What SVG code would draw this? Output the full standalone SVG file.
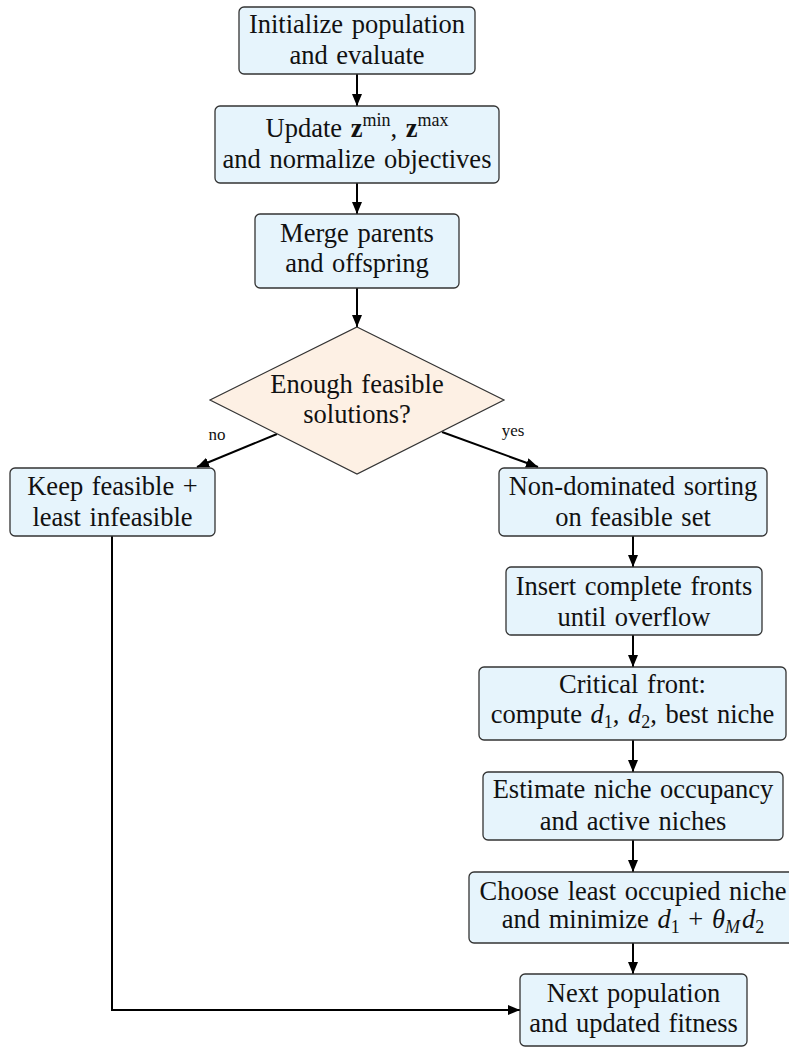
<svg xmlns="http://www.w3.org/2000/svg" width="789" height="1048" viewBox="0 0 789 1048">
<style>
.box{fill:#E6F4FC;stroke:#333;stroke-width:1.3}
.dia{fill:#FDF0E4;stroke:#333;stroke-width:1.2}
.t{font-family:"Liberation Serif","Times New Roman",serif;font-size:26.5px;fill:#111;text-anchor:middle;word-spacing:2px}
.lbl{font-family:"Liberation Serif","Times New Roman",serif;font-size:17px;fill:#111;text-anchor:middle}
.c{fill:none;stroke:#000;stroke-width:2}
.m{font-style:italic}
.b{font-weight:bold}
</style>
<defs>
<marker id="ah" markerUnits="userSpaceOnUse" markerWidth="13" markerHeight="11" refX="12" refY="5" orient="auto">
<path d="M0,0 L12,5 L0,10 z" fill="#000"/>
</marker>
</defs>
<rect width="789" height="1048" fill="#fff"/>
<g id="connectors">
<path class="c" d="M357,74 V106" marker-end="url(#ah)"/>
<path class="c" d="M357,183 V214" marker-end="url(#ah)"/>
<path class="c" d="M357,288 V327" marker-end="url(#ah)"/>
<path class="c" d="M277,434 L197,467" marker-end="url(#ah)"/>
<path class="c" d="M442,432 L538,467" marker-end="url(#ah)"/>
<path class="c" d="M633,536 V567" marker-end="url(#ah)"/>
<path class="c" d="M633,635 V667" marker-end="url(#ah)"/>
<path class="c" d="M633,740 V772" marker-end="url(#ah)"/>
<path class="c" d="M633,840 V872" marker-end="url(#ah)"/>
<path class="c" d="M633,943 V974" marker-end="url(#ah)"/>
<path class="c" d="M112,536 V1010 H520" marker-end="url(#ah)"/>
<text class="lbl" x="217" y="440">no</text>
<text class="lbl" x="513" y="436">yes</text>
</g>
<g id="init">
<rect class="box" x="239" y="7" width="236" height="67" rx="5"/>
<text class="t" x="357" y="33">Initialize population</text>
<text class="t" x="357" y="64">and evaluate</text>
</g>
<g id="update">
<rect class="box" x="215" y="106" width="284" height="77" rx="5"/>
<text class="t" x="357" y="137">Update <tspan class="b">z</tspan><tspan font-size="18" dy="-11">min</tspan><tspan dy="11">, </tspan><tspan class="b">z</tspan><tspan font-size="18" dy="-11">max</tspan></text>
<text class="t" x="357" y="168">and normalize objectives</text>
</g>
<g id="merge">
<rect class="box" x="255" y="214" width="204" height="74" rx="5"/>
<text class="t" x="357" y="242">Merge parents</text>
<text class="t" x="357" y="272">and offspring</text>
</g>
<g id="decision">
<polygon class="dia" points="357,327 504,400 357,474 210,400"/>
<text class="t" x="357" y="393">Enough feasible</text>
<text class="t" x="357" y="423">solutions?</text>
</g>
<g id="keep">
<rect class="box" x="10" y="468" width="205" height="68" rx="5"/>
<text class="t" x="112.5" y="495">Keep feasible +</text>
<text class="t" x="112.5" y="526">least infeasible</text>
</g>
<g id="nondom">
<rect class="box" x="499" y="468" width="268" height="68" rx="5"/>
<text class="t" x="633" y="495">Non-dominated sorting</text>
<text class="t" x="633" y="526">on feasible set</text>
</g>
<g id="insert">
<rect class="box" x="506" y="567" width="256" height="68" rx="5"/>
<text class="t" x="634" y="595">Insert complete fronts</text>
<text class="t" x="634" y="626">until overflow</text>
</g>
<g id="critical">
<rect class="box" x="479" y="667" width="307" height="73" rx="5"/>
<text class="t" x="632.5" y="693">Critical front:</text>
<text class="t" x="632.5" y="723">compute <tspan class="m">d</tspan><tspan font-size="18" dy="5">1</tspan><tspan dy="-5">, </tspan><tspan class="m">d</tspan><tspan font-size="18" dy="5">2</tspan><tspan dy="-5">, best niche</tspan></text>
</g>
<g id="estimate">
<rect class="box" x="483" y="772" width="300" height="68" rx="5"/>
<text class="t" x="633" y="798">Estimate niche occupancy</text>
<text class="t" x="633" y="830">and active niches</text>
</g>
<g id="choose">
<rect class="box" x="469" y="872" width="328" height="71" rx="5"/>
<text class="t" x="633" y="900">Choose least occupied niche</text>
<text class="t" x="633" y="928">and minimize <tspan class="m">d</tspan><tspan font-size="18" dy="5">1</tspan><tspan dy="-5"> + </tspan><tspan class="m">θ</tspan><tspan class="m" font-size="18" dy="5">M</tspan><tspan class="m" dy="-5" dx="2">d</tspan><tspan font-size="18" dy="5">2</tspan></text>
</g>
<g id="next">
<rect class="box" x="520" y="974" width="227" height="72" rx="5"/>
<text class="t" x="633.5" y="1002">Next population</text>
<text class="t" x="633.5" y="1032">and updated fitness</text>
</g>
</svg>
